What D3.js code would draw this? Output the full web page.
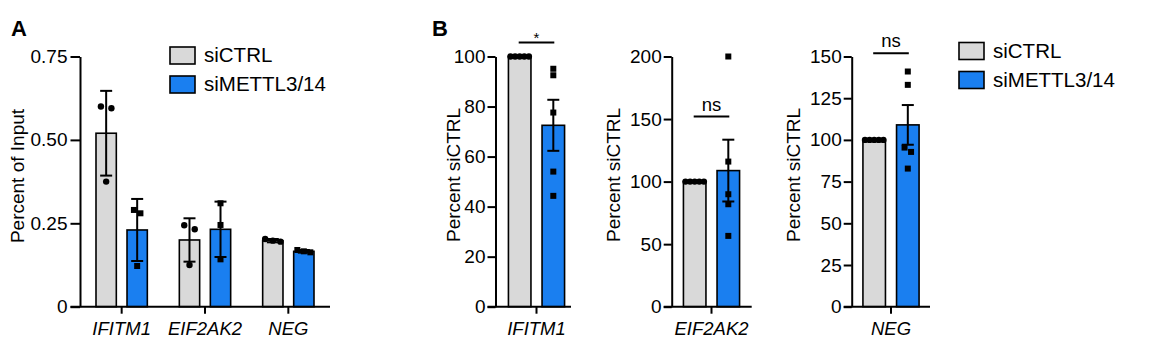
<!DOCTYPE html>
<html><head><meta charset="utf-8">
<script src="https://cdn.jsdelivr.net/npm/d3@7"></script>
<style>
body{margin:0;background:#fff}
svg{display:block}
text{font-family:"Liberation Sans",Arial,Helvetica,sans-serif;fill:#000}
</style>
</head><body>
<svg id="c" width="1164" height="347"></svg>
<script>
// ---------- data ----------
const seriesNames = ["siCTRL", "siMETTL3/14"];
const seriesColors = ["#d9d9d9", "#1a7ff0"];

// Panel A: Percent of Input (mean ± SD)
const categoriesA = ["IFITM1", "EIF2AK2", "NEG"];
const ctrlMeanA = [0.52, 0.20, 0.198];
const ctrlErrA = [0.127, 0.065, 0.005];
const metMeanA = [0.23, 0.232, 0.166];
const metErrA = [0.093, 0.083, 0.004];
const ctrlPointsA = [[0.595, 0.600, 0.375], [0.232, 0.244, 0.125], [0.195, 0.198, 0.203]];
const metPointsA = [[0.280, 0.290, 0.122], [0.310, 0.245, 0.142], [0.163, 0.166, 0.170]];
const ticksA = [0, 0.25, 0.50, 0.75];
const tickLabelsA = ["0", "0.25", "0.50", "0.75"];

// Panel B: Percent siCTRL (mean ± SEM), one small chart per gene
const categoriesB = ["IFITM1", "EIF2AK2", "NEG"];
const ctrlMeanB = [100, 100, 100];
const ctrlErrB = [0, 0, 0];
const metMeanB = [72.5, 108.8, 109.0];
const metErrB = [10.2, 24.7, 11.9];
const ctrlPointsB = [[100, 100, 100, 100, 100], [100, 100, 100, 100, 100], [100, 100, 100, 100, 100]];
const metPointsB = [[95.1, 92.5, 77.6, 54.0, 44.3], [200, 116, 89.9, 81.9, 56.6], [141, 133, 95.4, 92.8, 82.8]];
const maxB = [100, 200, 150];
const ticksB = [[0, 20, 40, 60, 80, 100], [0, 50, 100, 150, 200], [0, 25, 50, 75, 100, 125, 150]];
const sigLabelsB = ["*", "ns", "ns"];
const sigLevelB = [105.6, 152, 152];

// ---------- drawing ----------
const svg = d3.select("#c");

function spreadOffsets(vals, y, shape) {
  const px = vals.map(v => y(v));
  const order = d3.range(vals.length).sort((a, b) => px[a] - px[b]);
  const offs = new Array(vals.length).fill(0);
  let cluster = [order[0]];
  const flush = () => {
    const n = cluster.length;
    if (n > 1) {
      const sp = Math.min(shape === "circle" ? 10.5 : 6.5, 23 / n);
      cluster.forEach((idx, k) => offs[idx] = (k - (n - 1) / 2) * sp);
    }
  };
  for (let k = 1; k < order.length; k++) {
    const a = order[k - 1], b = order[k];
    if (px[b] - px[a] < 5.5) cluster.push(b);
    else { flush(); cluster = [b]; }
  }
  flush();
  return offs;
}

function drawPanel(cfg) {
  const g = svg.append("g");
  const y = d3.scaleLinear().domain([0, cfg.max]).range([cfg.bottom, cfg.top]);
  const x = d3.scaleBand().domain(cfg.categories).range([cfg.band0, cfg.band1]);
  const xs = d3.scaleBand().domain(seriesNames).range([0, x.bandwidth()])
    .paddingInner(cfg.pi).paddingOuter(cfg.po);
  const bw = xs.bandwidth();

  // bars
  cfg.series.forEach((s, si) => {
    g.selectAll(null).data(cfg.categories).enter().append("rect")
      .attr("x", c => x(c) + xs(seriesNames[si]))
      .attr("y", (c, i) => y(s.means[i]))
      .attr("width", bw)
      .attr("height", (c, i) => y(0) - y(s.means[i]))
      .attr("fill", seriesColors[si])
      .attr("stroke", "#000").attr("stroke-width", 1.6);
  });

  // error bars
  cfg.series.forEach((s, si) => {
    cfg.categories.forEach((c, i) => {
      const e = s.errs[i];
      if (!e) return;
      const cx = x(c) + xs(seriesNames[si]) + bw / 2;
      const y1 = y(s.means[i] + e), y2 = y(s.means[i] - e);
      g.append("line").attr("x1", cx).attr("x2", cx).attr("y1", y1).attr("y2", y2)
        .attr("stroke", "#000").attr("stroke-width", 2);
      [y1, y2].forEach(yy => g.append("line").attr("x1", cx - 6).attr("x2", cx + 6)
        .attr("y1", yy).attr("y2", yy).attr("stroke", "#000").attr("stroke-width", 2));
    });
  });

  // points
  cfg.series.forEach((s, si) => {
    cfg.categories.forEach((c, i) => {
      const cx = x(c) + xs(seriesNames[si]) + bw / 2;
      const pts = s.points[i];
      const offs = spreadOffsets(pts, y, s.shape);
      pts.forEach((v, k) => {
        if (s.shape === "circle") {
          g.append("circle").attr("cx", cx + offs[k]).attr("cy", y(v)).attr("r", 3.2).attr("fill", "#000");
        } else {
          g.append("rect").attr("x", cx + offs[k] - 3).attr("y", y(v) - 3)
            .attr("width", 6).attr("height", 6).attr("fill", "#000");
        }
      });
    });
  });

  // y axis
  const ya = g.append("g").attr("transform", `translate(${cfg.axisX},0)`)
    .call(d3.axisLeft(y).tickValues(cfg.ticks).tickFormat((d, i) => cfg.tickLabels[i])
      .tickSize(cfg.tickLen).tickPadding(cfg.tickPad).tickSizeOuter(0));
  ya.selectAll("path,line").attr("stroke", "#000").attr("stroke-width", 2);
  ya.selectAll("text").attr("font-size", 19).attr("font-family", null).attr("fill", "#000");

  // x baseline + ticks
  g.append("line").attr("x1", cfg.axisX - cfg.tickLen).attr("x2", cfg.xEnd).attr("y1", y(0)).attr("y2", y(0))
    .attr("stroke", "#000").attr("stroke-width", 2);
  const xa = g.append("g").attr("transform", `translate(0,${y(0)})`)
    .call(d3.axisBottom(x).tickSize(7).tickPadding(8).tickSizeOuter(0));
  xa.select(".domain").remove();
  xa.selectAll("line").attr("stroke", "#000").attr("stroke-width", 2);
  xa.selectAll("text").attr("font-size", 18.5).attr("font-style", "italic")
    .attr("font-family", null).attr("fill", "#000");

  // y title
  g.append("text").attr("transform", `translate(${cfg.titleX},${cfg.titleY}) rotate(-90)`)
    .attr("text-anchor", "middle").attr("dy", "0.35em").attr("font-size", 19).text(cfg.title);

  // significance
  if (cfg.sig) {
    const c = cfg.categories[0];
    const xa1 = x(c) + xs(seriesNames[0]) + bw / 2;
    const xa2 = x(c) + xs(seriesNames[1]) + bw / 2;
    const yy = y(cfg.sig.level);
    g.append("line").attr("x1", xa1 - 1).attr("x2", xa2 + 1).attr("y1", yy).attr("y2", yy)
      .attr("stroke", "#000").attr("stroke-width", 2);
    const isStar = cfg.sig.label === "*";
    g.append("text").attr("x", (xa1 + xa2) / 2).attr("y", isStar ? yy + 1 : yy - 6)
      .attr("text-anchor", "middle").attr("font-size", isStar ? 15 : 18.5).text(cfg.sig.label);
  }
}

function drawLegend(x0, y0) {
  const g = svg.append("g");
  seriesNames.forEach((n, i) => {
    g.append("rect").attr("x", x0).attr("y", y0 + i * 29).attr("width", 25).attr("height", 17)
      .attr("fill", seriesColors[i]).attr("stroke", "#000").attr("stroke-width", 1.6);
    g.append("text").attr("x", x0 + 34).attr("y", y0 + i * 29 + 15.2)
      .attr("font-size", 20.5).text(n);
  });
}

// Panel A
drawPanel({
  categories: categoriesA, max: 0.75, ticks: ticksA, tickLabels: tickLabelsA,
  top: 56.5, bottom: 306.7, axisX: 80, xEnd: 330, band0: 80, band1: 330,
  tickLen: 9.5, tickPad: 3,
  pi: 0.345, po: 0.516, title: "Percent of Input", titleX: 17, titleY: 176,
  series: [
    { means: ctrlMeanA, errs: ctrlErrA, points: ctrlPointsA, shape: "circle" },
    { means: metMeanA, errs: metErrA, points: metPointsA, shape: "square" }
  ]
});

// Panel B (three small charts)
const bLayout = [
  { axisX: 495.5, xEnd: 571, band0: 497, band1: 576, titleX: 453 },
  { axisX: 671.7, xEnd: 751.7, band0: 672, band1: 751, titleX: 613 },
  { axisX: 851.7, xEnd: 930, band0: 851.5, band1: 930.5, titleX: 793 }
];
categoriesB.forEach((cat, i) => {
  drawPanel(Object.assign({
    categories: [cat], max: maxB[i], ticks: ticksB[i], tickLabels: ticksB[i].map(String),
    top: 56.5, bottom: 306.7, pi: 0.33, po: 0.34, title: "Percent siCTRL", titleY: 175,
    tickLen: 8, tickPad: 2,
    series: [
      { means: [ctrlMeanB[i]], errs: [ctrlErrB[i]], points: [ctrlPointsB[i]], shape: "circle" },
      { means: [metMeanB[i]], errs: [metErrB[i]], points: [metPointsB[i]], shape: "square" }
    ],
    sig: { label: sigLabelsB[i], level: sigLevelB[i] }
  }, bLayout[i]));
});

drawLegend(170, 47);
drawLegend(959, 42.5);

// panel letters
svg.append("text").attr("x", 11).attr("y", 36).attr("font-size", 22).attr("font-weight", "bold").text("A");
svg.append("text").attr("x", 432).attr("y", 35.5).attr("font-size", 22).attr("font-weight", "bold").text("B");
</script>
</body></html>
